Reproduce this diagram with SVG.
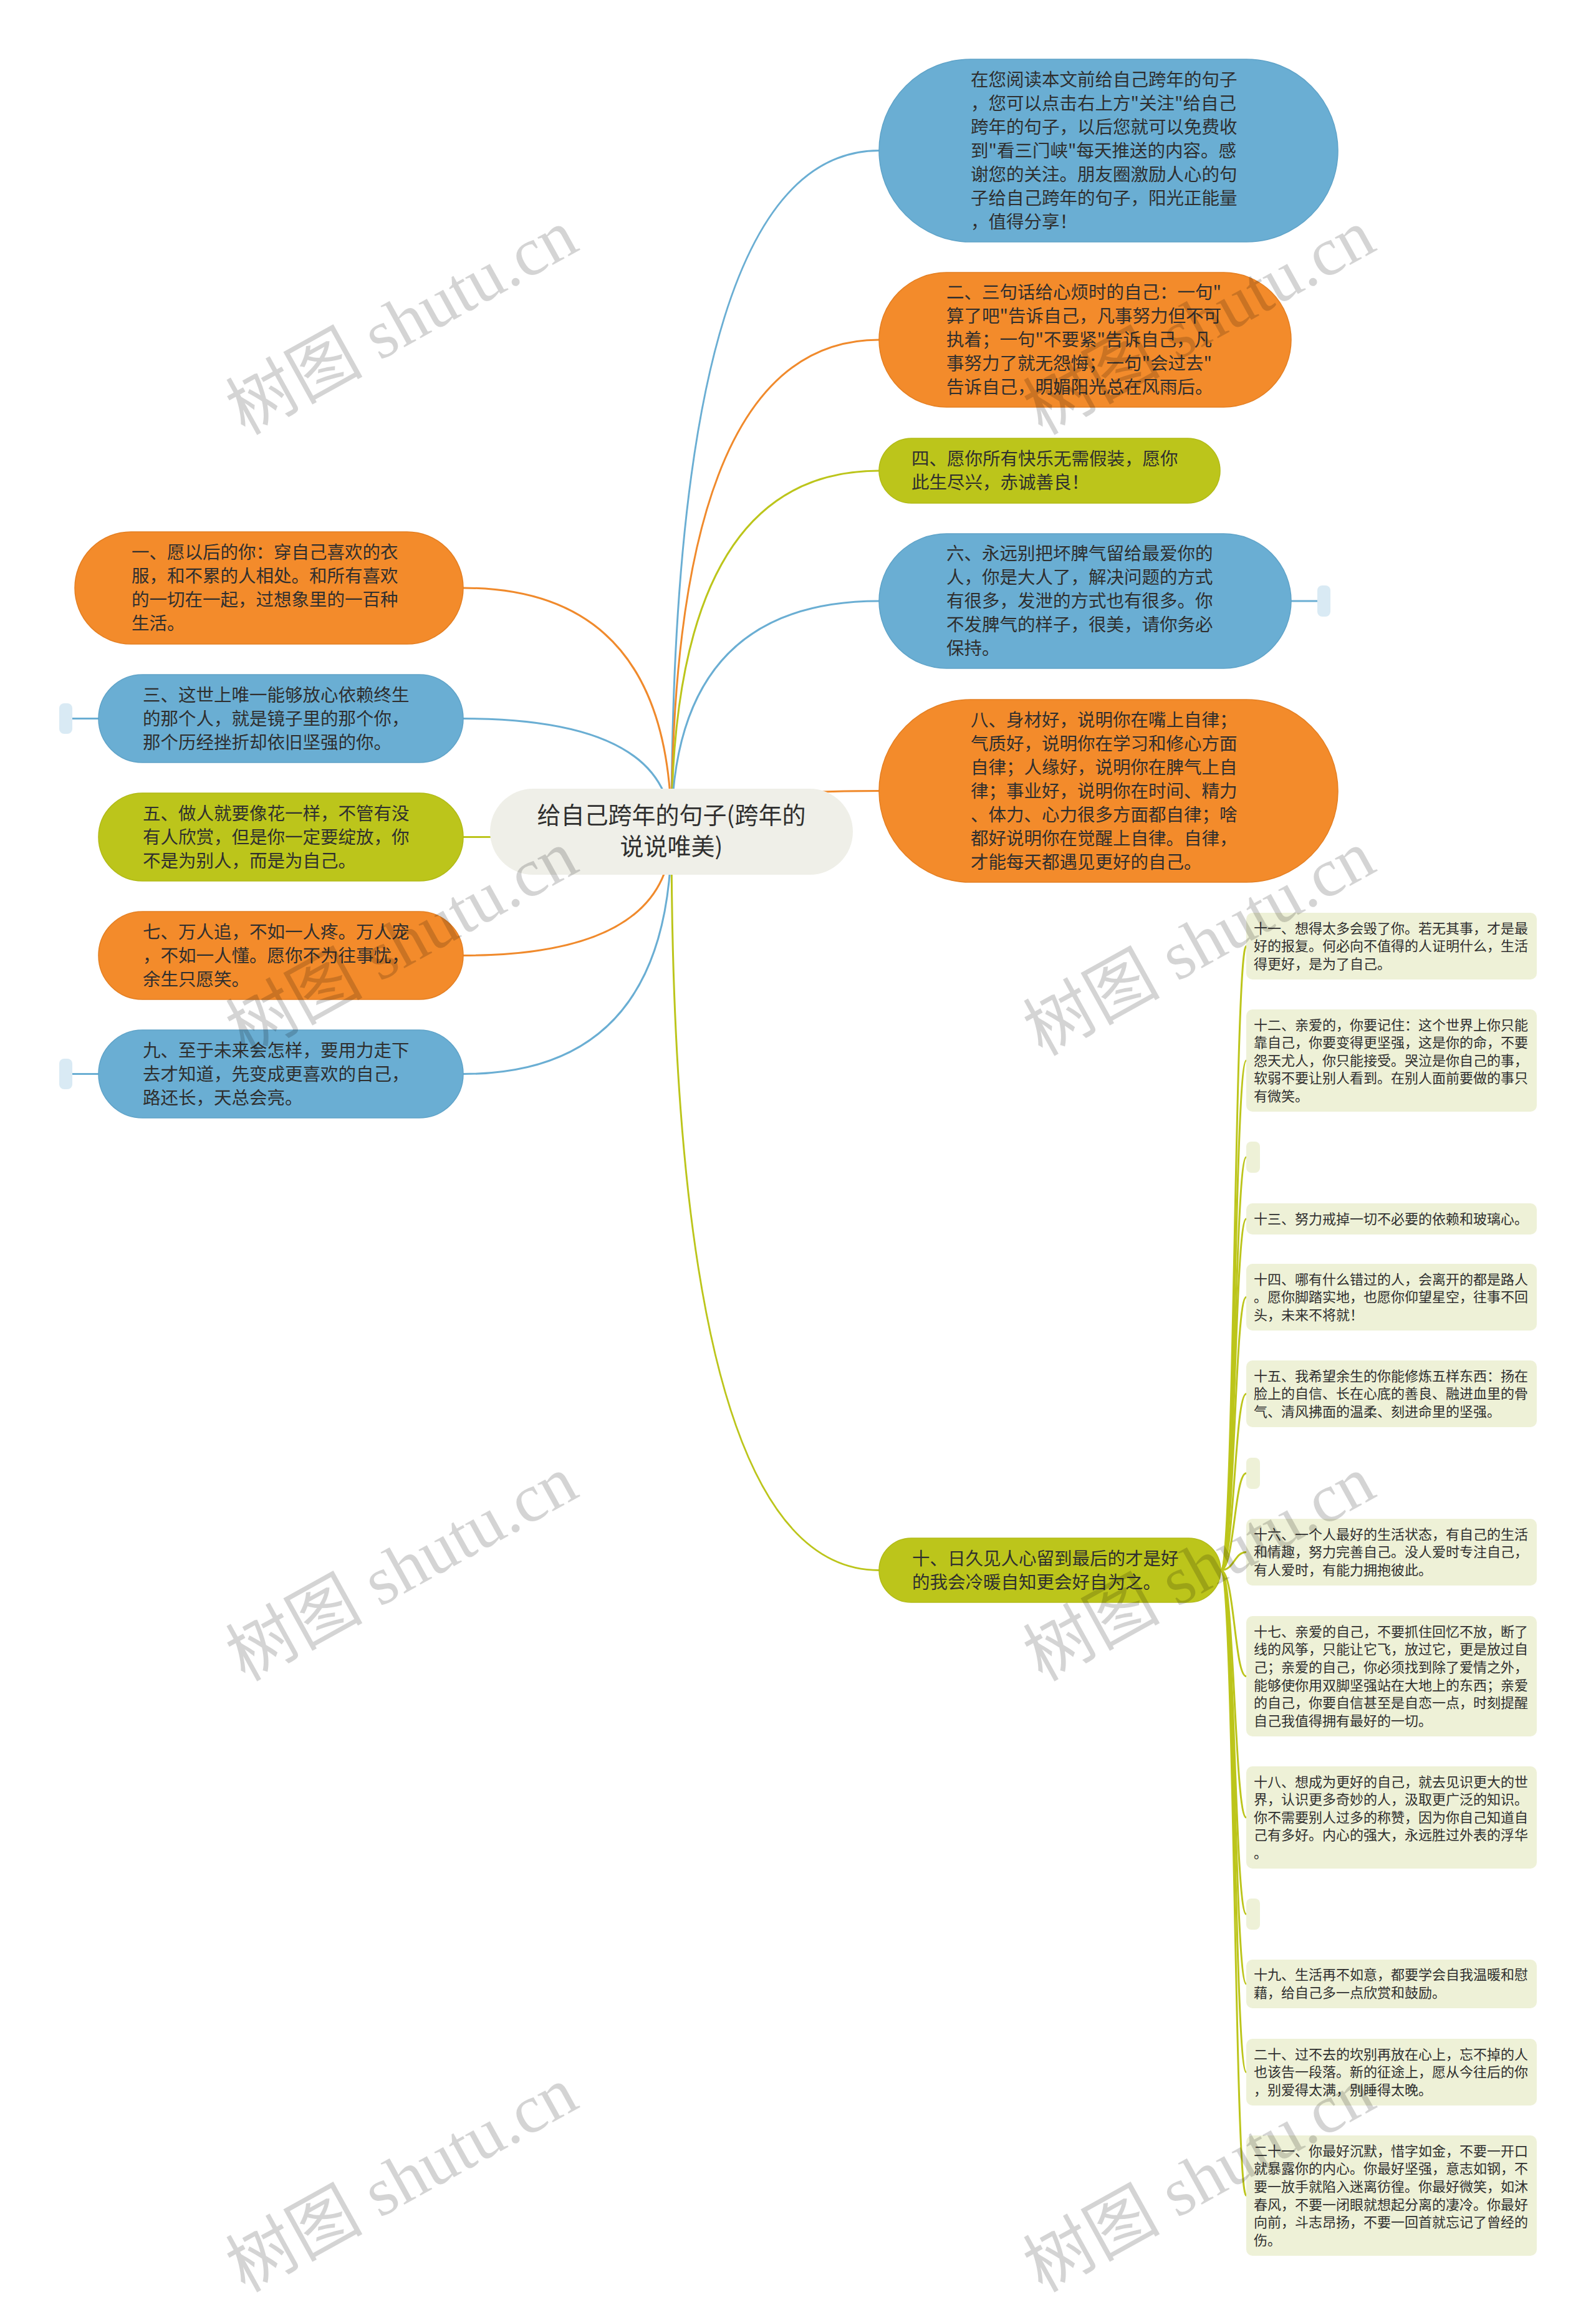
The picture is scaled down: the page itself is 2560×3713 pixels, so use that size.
<svg xmlns="http://www.w3.org/2000/svg" width="2560" height="3713" viewBox="0 0 2560 3713">
<style>
.t{font-family:"Noto Sans CJK SC","Noto Sans",sans-serif;fill:#2f2f2f}
.big{font-size:28.5px}
.sm{font-size:22px}
.ctr{font-size:38px}
.or{fill:#f38b2b;stroke:#e47f22;stroke-width:1.5}
.bl{fill:#6aaed3;stroke:#5fa3c8;stroke-width:1.5}
.gr{fill:#bcc51b;stroke:#b1ba16;stroke-width:1.5}
.leaf{fill:#eef1d7}
.mkb{fill:#d9eaf4}
.root{fill:#efefe8}
.c{fill:none;stroke-width:3;stroke-linecap:round}
.co{stroke:#f08a2c}
.cb{stroke:#6aaed3}
.cg{stroke:#bcc51b}
.wm{font-family:"Liberation Serif","Noto Sans CJK SC",serif;font-size:110px;fill:#000;fill-opacity:0.17}
</style>
<rect width="2560" height="3713" fill="#ffffff"/>
<g id="connectors">
<path class="c cb" d="M1077,1334 Q1077,241.5 1410,241.5"/>
<path class="c co" d="M1077,1334 Q1077,545 1410,545"/>
<path class="c cg" d="M1077,1334 Q1077,755 1410,755"/>
<path class="c cb" d="M1077,1334 Q1077,964 1410,964"/>
<path class="c co" d="M1077,1334 Q1077,1268.5 1410,1268.5"/>
<path class="c cg" d="M1077,1334 Q1077,2518.5 1410,2518.5"/>
<path class="c co" d="M1077,1334 Q1077,943 743,943"/>
<path class="c cb" d="M1077,1334 Q1077,1152.5 743,1152.5"/>
<path class="c cg" d="M1077,1334 Q1077,1342.5 743,1342.5"/>
<path class="c co" d="M1077,1334 Q1077,1532.5 743,1532.5"/>
<path class="c cb" d="M1077,1334 Q1077,1722.5 743,1722.5"/>
<path class="c cb" d="M2071,964 L2113,964"/>
<path class="c cb" d="M116,1152.5 L158,1152.5"/>
<path class="c cb" d="M116,1722.5 L158,1722.5"/>
<path class="c cg" d="M1958,2518.5 C1980,2518.5 1980,1517.5 1999,1517.5"/>
<path class="c cg" d="M1958,2518.5 C1980,2518.5 1980,1701 1999,1701"/>
<path class="c cg" d="M1958,2518.5 C1980,2518.5 1980,1856 1999,1856"/>
<path class="c cg" d="M1958,2518.5 C1980,2518.5 1980,1955 1999,1955"/>
<path class="c cg" d="M1958,2518.5 C1980,2518.5 1980,2080.5 1999,2080.5"/>
<path class="c cg" d="M1958,2518.5 C1980,2518.5 1980,2235.5 1999,2235.5"/>
<path class="c cg" d="M1958,2518.5 C1980,2518.5 1980,2363 1999,2363"/>
<path class="c cg" d="M1958,2518.5 C1980,2518.5 1980,2489.5 1999,2489.5"/>
<path class="c cg" d="M1958,2518.5 C1980,2518.5 1980,2688.5 1999,2688.5"/>
<path class="c cg" d="M1958,2518.5 C1980,2518.5 1980,2915 1999,2915"/>
<path class="c cg" d="M1958,2518.5 C1980,2518.5 1980,3070 1999,3070"/>
<path class="c cg" d="M1958,2518.5 C1980,2518.5 1980,3182 1999,3182"/>
<path class="c cg" d="M1958,2518.5 C1980,2518.5 1980,3323.5 1999,3323.5"/>
<path class="c cg" d="M1958,2518.5 C1980,2518.5 1980,3521.5 1999,3521.5"/>
</g>
<g id="root">
<rect class="root" x="786" y="1265" width="582" height="138" rx="69"/>
<text class="t ctr" text-anchor="middle"><tspan x="1077" y="1321">给自己跨年的句子(跨年的</tspan><tspan x="1077" y="1371">说说唯美)</tspan></text>
</g>
<g id="n-intro">
<rect class="bl" x="1410" y="95" width="736" height="293" rx="146.5"/>
<text class="t big"><tspan x="1557" y="137.5">在您阅读本文前给自己跨年的句子</tspan><tspan x="1557" y="175.5">，您可以点击右上方"关注"给自己</tspan><tspan x="1557" y="213.5">跨年的句子，以后您就可以免费收</tspan><tspan x="1557" y="251.5">到"看三门峡"每天推送的内容。感</tspan><tspan x="1557" y="289.5">谢您的关注。朋友圈激励人心的句</tspan><tspan x="1557" y="327.5">子给自己跨年的句子，阳光正能量</tspan><tspan x="1557" y="365.5">，值得分享！</tspan></text>
</g>
<g id="n2">
<rect class="or" x="1410" y="437" width="661" height="216" rx="108"/>
<text class="t big"><tspan x="1518" y="479">二、三句话给心烦时的自己：一句"</tspan><tspan x="1518" y="517">算了吧"告诉自己，凡事努力但不可</tspan><tspan x="1518" y="555">执着；一句"不要紧"告诉自己，凡</tspan><tspan x="1518" y="593">事努力了就无怨悔；一句"会过去"</tspan><tspan x="1518" y="631">告诉自己，明媚阳光总在风雨后。</tspan></text>
</g>
<g id="n4">
<rect class="gr" x="1410" y="703" width="547" height="104" rx="52"/>
<text class="t big"><tspan x="1462" y="746">四、愿你所有快乐无需假装，愿你</tspan><tspan x="1462" y="784">此生尽兴，赤诚善良！</tspan></text>
</g>
<g id="n6">
<rect class="bl" x="1410" y="856" width="661" height="216" rx="108"/>
<text class="t big"><tspan x="1518" y="898">六、永远别把坏脾气留给最爱你的</tspan><tspan x="1518" y="936">人，你是大人了，解决问题的方式</tspan><tspan x="1518" y="974">有很多，发泄的方式也有很多。你</tspan><tspan x="1518" y="1012">不发脾气的样子，很美，请你务必</tspan><tspan x="1518" y="1050">保持。</tspan></text>
<rect class="mkb" x="2113" y="939" width="21" height="50" rx="8"/>
</g>
<g id="n8">
<rect class="or" x="1410" y="1122" width="736" height="293" rx="146.5"/>
<text class="t big"><tspan x="1557" y="1164.5">八、身材好，说明你在嘴上自律；</tspan><tspan x="1557" y="1202.5">气质好，说明你在学习和修心方面</tspan><tspan x="1557" y="1240.5">自律；人缘好，说明你在脾气上自</tspan><tspan x="1557" y="1278.5">律；事业好，说明你在时间、精力</tspan><tspan x="1557" y="1316.5">、体力、心力很多方面都自律；啥</tspan><tspan x="1557" y="1354.5">都好说明你在觉醒上自律。自律，</tspan><tspan x="1557" y="1392.5">才能每天都遇见更好的自己。</tspan></text>
</g>
<g id="n10">
<rect class="gr" x="1410" y="2467" width="548" height="103" rx="51.5"/>
<text class="t big"><tspan x="1463" y="2509.5">十、日久见人心留到最后的才是好</tspan><tspan x="1463" y="2547.5">的我会冷暖自知更会好自为之。</tspan></text>
</g>
<g id="n1">
<rect class="or" x="120" y="853" width="623" height="180" rx="90"/>
<text class="t big"><tspan x="211" y="896">一、愿以后的你：穿自己喜欢的衣</tspan><tspan x="211" y="934">服，和不累的人相处。和所有喜欢</tspan><tspan x="211" y="972">的一切在一起，过想象里的一百种</tspan><tspan x="211" y="1010">生活。</tspan></text>
</g>
<g id="n3">
<rect class="bl" x="158" y="1082" width="585" height="141" rx="70.5"/>
<text class="t big"><tspan x="229" y="1124.5">三、这世上唯一能够放心依赖终生</tspan><tspan x="229" y="1162.5">的那个人，就是镜子里的那个你，</tspan><tspan x="229" y="1200.5">那个历经挫折却依旧坚强的你。</tspan></text>
<rect class="mkb" x="95" y="1128" width="21" height="49" rx="8"/>
</g>
<g id="n5">
<rect class="gr" x="158" y="1272" width="585" height="141" rx="70.5"/>
<text class="t big"><tspan x="229" y="1314.5">五、做人就要像花一样，不管有没</tspan><tspan x="229" y="1352.5">有人欣赏，但是你一定要绽放，你</tspan><tspan x="229" y="1390.5">不是为别人，而是为自己。</tspan></text>
</g>
<g id="n7">
<rect class="or" x="158" y="1462" width="585" height="141" rx="70.5"/>
<text class="t big"><tspan x="229" y="1504.5">七、万人追，不如一人疼。万人宠</tspan><tspan x="229" y="1542.5">，不如一人懂。愿你不为往事忧，</tspan><tspan x="229" y="1580.5">余生只愿笑。</tspan></text>
</g>
<g id="n9">
<rect class="bl" x="158" y="1652" width="585" height="141" rx="70.5"/>
<text class="t big"><tspan x="229" y="1694.5">九、至于未来会怎样，要用力走下</tspan><tspan x="229" y="1732.5">去才知道，先变成更喜欢的自己，</tspan><tspan x="229" y="1770.5">路还长，天总会亮。</tspan></text>
<rect class="mkb" x="95" y="1698" width="21" height="49" rx="8"/>
</g>
<g id="n11">
<rect class="leaf" x="1999" y="1464" width="466" height="107" rx="10"/>
<text class="t sm"><tspan x="2011" y="1496.6">十一、想得太多会毁了你。若无其事，才是最</tspan><tspan x="2011" y="1525.2">好的报复。何必向不值得的人证明什么，生活</tspan><tspan x="2011" y="1553.8">得更好，是为了自己。</tspan></text>
</g>
<g id="n12">
<rect class="leaf" x="1999" y="1619" width="466" height="164" rx="10"/>
<text class="t sm"><tspan x="2011" y="1651.5">十二、亲爱的，你要记住：这个世界上你只能</tspan><tspan x="2011" y="1680.1">靠自己，你要变得更坚强，这是你的命，不要</tspan><tspan x="2011" y="1708.7">怨天尤人，你只能接受。哭泣是你自己的事，</tspan><tspan x="2011" y="1737.3">软弱不要让别人看到。在别人面前要做的事只</tspan><tspan x="2011" y="1765.9">有微笑。</tspan></text>
</g>
<g id="m1"><rect class="leaf" x="1999" y="1831" width="22" height="50" rx="8"/></g>
<g id="n13">
<rect class="leaf" x="1999" y="1930" width="466" height="50" rx="10"/>
<text class="t sm"><tspan x="2011" y="1962.7">十三、努力戒掉一切不必要的依赖和玻璃心。</tspan></text>
</g>
<g id="n14">
<rect class="leaf" x="1999" y="2027" width="466" height="107" rx="10"/>
<text class="t sm"><tspan x="2011" y="2059.6">十四、哪有什么错过的人，会离开的都是路人</tspan><tspan x="2011" y="2088.2">。愿你脚踏实地，也愿你仰望星空，往事不回</tspan><tspan x="2011" y="2116.8">头，未来不将就！</tspan></text>
</g>
<g id="n15">
<rect class="leaf" x="1999" y="2182" width="466" height="107" rx="10"/>
<text class="t sm"><tspan x="2011" y="2214.6">十五、我希望余生的你能修炼五样东西：扬在</tspan><tspan x="2011" y="2243.2">脸上的自信、长在心底的善良、融进血里的骨</tspan><tspan x="2011" y="2271.8">气、清风拂面的温柔、刻进命里的坚强。</tspan></text>
</g>
<g id="m2"><rect class="leaf" x="1999" y="2338" width="22" height="50" rx="8"/></g>
<g id="n16">
<rect class="leaf" x="1999" y="2436" width="466" height="107" rx="10"/>
<text class="t sm"><tspan x="2011" y="2468.6">十六、一个人最好的生活状态，有自己的生活</tspan><tspan x="2011" y="2497.2">和情趣，努力完善自己。没人爱时专注自己，</tspan><tspan x="2011" y="2525.8">有人爱时，有能力拥抱彼此。</tspan></text>
</g>
<g id="n17">
<rect class="leaf" x="1999" y="2592" width="466" height="193" rx="10"/>
<text class="t sm"><tspan x="2011" y="2624.7">十七、亲爱的自己，不要抓住回忆不放，断了</tspan><tspan x="2011" y="2653.3">线的风筝，只能让它飞，放过它，更是放过自</tspan><tspan x="2011" y="2681.9">己；亲爱的自己，你必须找到除了爱情之外，</tspan><tspan x="2011" y="2710.5">能够使你用双脚坚强站在大地上的东西；亲爱</tspan><tspan x="2011" y="2739.1">的自己，你要自信甚至是自恋一点，时刻提醒</tspan><tspan x="2011" y="2767.7">自己我值得拥有最好的一切。</tspan></text>
</g>
<g id="n18">
<rect class="leaf" x="1999" y="2833" width="466" height="164" rx="10"/>
<text class="t sm"><tspan x="2011" y="2865.5">十八、想成为更好的自己，就去见识更大的世</tspan><tspan x="2011" y="2894.1">界，认识更多奇妙的人，汲取更广泛的知识。</tspan><tspan x="2011" y="2922.7">你不需要别人过多的称赞，因为你自己知道自</tspan><tspan x="2011" y="2951.3">己有多好。内心的强大，永远胜过外表的浮华</tspan><tspan x="2011" y="2979.9">。</tspan></text>
</g>
<g id="m3"><rect class="leaf" x="1999" y="3045" width="22" height="50" rx="8"/></g>
<g id="n19">
<rect class="leaf" x="1999" y="3143" width="466" height="78" rx="10"/>
<text class="t sm"><tspan x="2011" y="3175.4">十九、生活再不如意，都要学会自我温暖和慰</tspan><tspan x="2011" y="3204">藉，给自己多一点欣赏和鼓励。</tspan></text>
</g>
<g id="n20">
<rect class="leaf" x="1999" y="3270" width="466" height="107" rx="10"/>
<text class="t sm"><tspan x="2011" y="3302.6">二十、过不去的坎别再放在心上，忘不掉的人</tspan><tspan x="2011" y="3331.2">也该告一段落。新的征途上，愿从今往后的你</tspan><tspan x="2011" y="3359.8">，别爱得太满，别睡得太晚。</tspan></text>
</g>
<g id="n21">
<rect class="leaf" x="1999" y="3425" width="466" height="193" rx="10"/>
<text class="t sm"><tspan x="2011" y="3457.7">二十一、你最好沉默，惜字如金，不要一开口</tspan><tspan x="2011" y="3486.3">就暴露你的内心。你最好坚强，意志如钢，不</tspan><tspan x="2011" y="3514.9">要一放手就陷入迷离彷徨。你最好微笑，如沐</tspan><tspan x="2011" y="3543.5">春风，不要一闭眼就想起分离的凄冷。你最好</tspan><tspan x="2011" y="3572.1">向前，斗志昂扬，不要一回首就忘记了曾经的</tspan><tspan x="2011" y="3600.7">伤。</tspan></text>
</g>
<g id="watermarks">
<text class="wm" text-anchor="middle" transform="translate(644,516) rotate(-29)" x="0" y="38">树图 shutu.cn</text>
<text class="wm" text-anchor="middle" transform="translate(1923,516) rotate(-29)" x="0" y="38">树图 shutu.cn</text>
<text class="wm" text-anchor="middle" transform="translate(644,1512) rotate(-29)" x="0" y="38">树图 shutu.cn</text>
<text class="wm" text-anchor="middle" transform="translate(1923,1512) rotate(-29)" x="0" y="38">树图 shutu.cn</text>
<text class="wm" text-anchor="middle" transform="translate(644,2515) rotate(-29)" x="0" y="38">树图 shutu.cn</text>
<text class="wm" text-anchor="middle" transform="translate(1923,2515) rotate(-29)" x="0" y="38">树图 shutu.cn</text>
<text class="wm" text-anchor="middle" transform="translate(644,3495) rotate(-29)" x="0" y="38">树图 shutu.cn</text>
<text class="wm" text-anchor="middle" transform="translate(1923,3495) rotate(-29)" x="0" y="38">树图 shutu.cn</text>
</g>
</svg>
